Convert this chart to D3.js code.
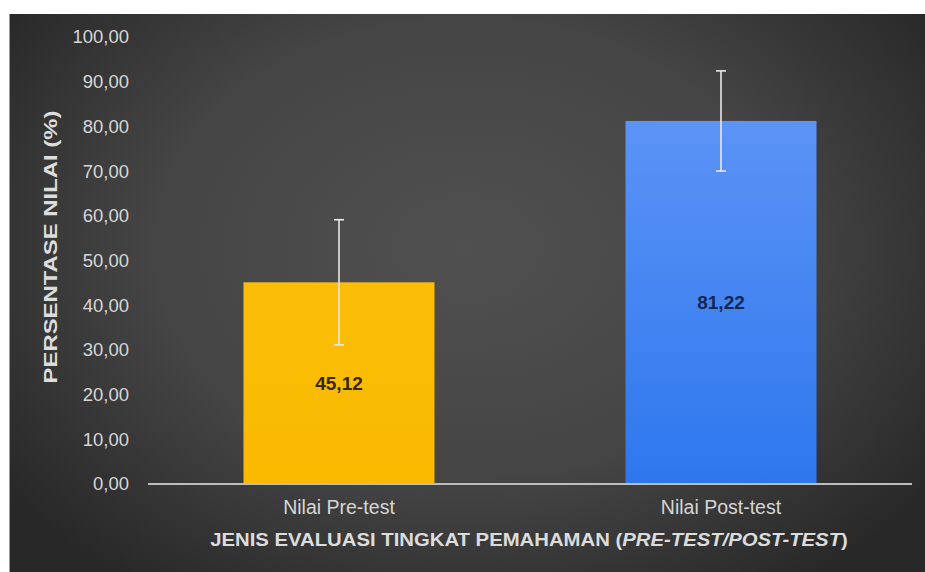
<!DOCTYPE html>
<html>
<head>
<meta charset="utf-8">
<script src="https://cdn.jsdelivr.net/npm/d3@7"></script>
<style>
  html, body { margin: 0; padding: 0; background: #fff; }
  #chart { width: 925px; height: 572px; }
  text { font-family: "Liberation Sans", Arial, sans-serif; }
</style>
</head>
<body>
<div id="chart"></div>
<script>
// Data
const categories = ['Nilai Pre-test', 'Nilai Post-test'];
const meanValues = [45.12, 81.22];
const errorValues = [14.0, 11.2];
const yTicks = [0, 10, 20, 30, 40, 50, 60, 70, 80, 90, 100];
const barColors = ['yellow', 'blue'];

const W = 925, H = 572;
const margin = { top: 37, right: 13, bottom: 88, left: 148 };
const width = W - margin.left - margin.right;
const height = H - margin.top - margin.bottom;

const root = d3.select('#chart').append('svg')
    .attr('width', W)
    .attr('height', H);

// Stretch a text horizontally (around its anchor point) to a target length
function stretchTo(sel, target) {
    const node = sel.node();
    const len = node.getComputedTextLength();
    const sx = target / len;
    const ax = +sel.attr('x') || 0;
    const ay = +sel.attr('y') || 0;
    const prev = sel.attr('transform') || '';
    sel.attr('transform', `${prev} translate(${ax},${ay}) scale(${sx},1) translate(${-ax},${-ay})`);
}

// Gradients
const defs = root.append('defs');
const bg = defs.append('radialGradient')
    .attr('id', 'bgGrad')
    .attr('cx', '0.5').attr('cy', '0.42').attr('r', '0.62')
    .attr('gradientTransform', 'translate(0.5,0.42) scale(1,1.2) translate(-0.5,-0.42)');
bg.append('stop').attr('offset', '0%').attr('stop-color', '#505050');
bg.append('stop').attr('offset', '55%').attr('stop-color', '#454545');
bg.append('stop').attr('offset', '100%').attr('stop-color', '#282828');

const gy = defs.append('linearGradient').attr('id', 'grad-yellow')
    .attr('x1', 0).attr('y1', 0).attr('x2', 0).attr('y2', 1);
gy.append('stop').attr('offset', '0%').attr('stop-color', '#fbbd07');
gy.append('stop').attr('offset', '100%').attr('stop-color', '#f9ba00');

const gb = defs.append('linearGradient').attr('id', 'grad-blue')
    .attr('x1', 0).attr('y1', 0).attr('x2', 0).attr('y2', 1);
gb.append('stop').attr('offset', '0%').attr('stop-color', '#5c93f6');
gb.append('stop').attr('offset', '100%').attr('stop-color', '#2d77ee');

// Background panel
root.append('rect')
    .attr('x', 9).attr('y', 14)
    .attr('width', W - 9).attr('height', H - 14)
    .attr('fill', 'url(#bgGrad)');
root.append('line')
    .attr('x1', 9.5).attr('x2', 9.5)
    .attr('y1', 14).attr('y2', H)
    .attr('stroke', '#9a9a9a').attr('stroke-width', 1);

const svg = root.append('g')
    .attr('transform', `translate(${margin.left},${margin.top})`);

// Scales
const x = d3.scaleBand()
    .domain(categories)
    .range([0, width])
    .paddingInner(0.5)
    .paddingOuter(0.25);

const y = d3.scaleLinear()
    .domain([0, 100])
    .range([height, 0]);

const fmt = d => d.toFixed(2).replace('.', ',');

// Y axis labels (no axis line)
const yAxis = svg.append('g')
    .call(d3.axisLeft(y).tickValues(yTicks).tickSize(0).tickPadding(19).tickFormat(fmt));
yAxis.select('.domain').remove();
yAxis.selectAll('text')
    .style('font-size', '18.5px')
    .style('fill', '#d6d6d6')
    .style('font-family', '"Liberation Sans", Arial, sans-serif');

// Bars
svg.selectAll('.bar')
    .data(categories)
    .enter()
    .append('rect')
    .attr('class', 'bar')
    .attr('x', d => x(d))
    .attr('y', (d, i) => y(meanValues[i]))
    .attr('width', x.bandwidth())
    .attr('height', (d, i) => height - y(meanValues[i]))
    .attr('fill', (d, i) => `url(#grad-${barColors[i]})`);

// X axis line
svg.append('line')
    .attr('x1', 0).attr('x2', width)
    .attr('y1', height).attr('y2', height)
    .attr('stroke', '#bdbdbd')
    .attr('stroke-width', 2);

// Error bars
const capW = 5;
const err = svg.append('g').attr('class', 'error-bars');
categories.forEach((c, i) => {
    const cx = x(c) + x.bandwidth() / 2;
    const hi = y(meanValues[i] + errorValues[i]);
    const lo = y(meanValues[i] - errorValues[i]);
    err.append('line')
        .attr('x1', cx).attr('x2', cx).attr('y1', hi).attr('y2', lo)
        .attr('stroke', '#e8e8e8').attr('stroke-width', 1.6);
    [hi, lo].forEach(yy => {
        err.append('line')
            .attr('x1', cx - capW).attr('x2', cx + capW)
            .attr('y1', yy).attr('y2', yy)
            .attr('stroke', '#e8e8e8').attr('stroke-width', 1.6);
    });
});

// Value labels in the middle of each bar
const labelColors = ['#3a2804', '#132756'];
svg.selectAll('.value-label')
    .data(categories)
    .enter()
    .append('text')
    .attr('class', 'value-label')
    .attr('x', d => x(d) + x.bandwidth() / 2)
    .attr('y', (d, i) => (y(meanValues[i]) + height) / 2 + 2)
    .attr('text-anchor', 'middle')
    .attr('dominant-baseline', 'middle')
    .style('font-size', '19px')
    .style('font-weight', '600')
    .style('fill', (d, i) => labelColors[i])
    .text((d, i) => fmt(meanValues[i]));

// Category labels
svg.selectAll('.cat-label')
    .data(categories)
    .enter()
    .append('text')
    .attr('class', 'cat-label')
    .attr('x', d => x(d) + x.bandwidth() / 2)
    .attr('y', height + 25)
    .attr('text-anchor', 'middle')
    .attr('dominant-baseline', 'middle')
    .style('font-size', '19.5px')
    .style('fill', '#d6d6d6')
    .text(d => d);

// X axis title
const xTitle = svg.append('text')
    .attr('x', 529 - margin.left)
    .attr('y', height + 57)
    .attr('text-anchor', 'middle')
    .attr('dominant-baseline', 'middle')
    .style('font-size', '19px')
    .style('font-weight', 'bold')
    .style('fill', '#dcdcdc');
xTitle.append('tspan').text('JENIS EVALUASI TINGKAT PEMAHAMAN (');
xTitle.append('tspan').style('font-style', 'italic').text('PRE-TEST/POST-TEST');
xTitle.append('tspan').text(')');
stretchTo(xTitle, 638);

// Y axis title
const yTitle = svg.append('text')
    .attr('transform', 'rotate(-90)')
    .attr('x', -(247 - margin.top))
    .attr('y', 52 - margin.left)
    .attr('text-anchor', 'middle')
    .attr('dominant-baseline', 'middle')
    .style('font-size', '19px')
    .style('font-weight', 'bold')
    .style('fill', '#dcdcdc')
    .text('PERSENTASE NILAI (%)');
stretchTo(yTitle, 273);
</script>
</body>
</html>
